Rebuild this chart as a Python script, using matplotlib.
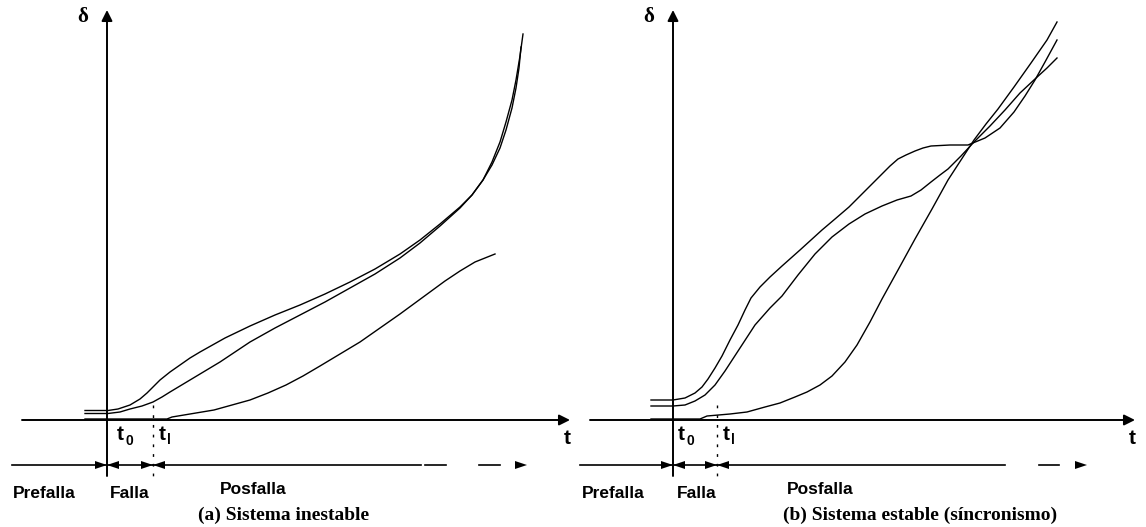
import matplotlib
matplotlib.use("Agg")
import matplotlib.pyplot as plt
from matplotlib.patches import Polygon

# swing curves, t measured from the fault instant, delta above the time axis
# (a) unstable system
a_top_t = [-22, 1, 11, 23, 33, 40, 47, 53, 63, 73, 83, 93, 118, 143, 168, 193, 218, 243, 268,
           293, 313, 333, 353, 365, 376, 385, 393, 399, 405, 409, 412, 414]
a_top_d = [9.5, 9.5, 11, 15, 21, 27, 34, 40, 48, 55, 62, 68, 82, 94, 105, 115, 126, 138, 151,
           166, 180, 196, 213, 225, 240, 255, 272, 290, 312, 332, 352, 373]
a_mid_t = [-22, 1, 13, 23, 35, 46, 55, 63, 73, 83, 98, 113, 128, 143, 168, 193, 218, 243, 268,
           293, 313, 333, 353, 365, 376, 385, 393, 399, 405, 409, 413, 416]
a_mid_d = [6.5, 6.5, 8, 11, 14, 18, 23, 28, 34, 40, 49, 58, 68, 78, 92, 105, 118, 132, 146,
           162, 177, 194, 212, 225, 240, 258, 278, 298, 320, 340, 364, 386]
a_low_t = [-22, 0, 60, 65, 83, 107, 125, 143, 161, 179, 196, 213, 233, 253, 273, 293, 308, 323,
           338, 353, 368, 378, 388]
a_low_d = [1, 1, 1, 3, 6, 10, 15, 20, 27, 35, 44, 54, 66, 78, 92, 106, 117, 128,
           139, 149, 158, 162, 166]

# (b) stable system
b_top_t = [-22, 0, 12, 22, 29, 35, 42, 49, 57, 65, 72, 78, 87, 97, 109, 127, 149, 162, 176,
           187, 196, 207, 217, 225, 233, 242, 250, 258, 277, 295, 312, 327, 341, 352, 362, 372, 384]
b_top_d = [20, 20, 22, 27, 33, 41, 52, 64, 80, 95, 110, 122, 133, 143, 154, 170, 190, 201, 213,
           224, 233, 244, 254, 261, 265, 269, 272, 274, 275, 275, 282, 292, 308, 324, 340, 358, 380]
b_mid_t = [-22, 0, 12, 22, 32, 42, 52, 67, 82, 97, 109, 125, 142, 159, 176, 192, 209, 224, 238,
           248, 258, 267, 275, 288, 301, 317, 332, 347, 362, 374, 384]
b_mid_d = [14, 14, 15, 19, 25, 35, 49, 72, 95, 112, 124, 145, 166, 183, 196, 206, 214, 220, 224,
           230, 238, 245, 251, 264, 278, 294, 310, 327, 341, 352, 362]
b_low_t = [-22, 27, 34, 57, 74, 92, 107, 122, 134, 147, 159, 172, 184, 197, 209, 225, 242, 259,
           275, 288, 301, 313, 325, 341, 358, 374, 384]
b_low_d = [1, 1, 4, 6, 8, 13, 17, 23, 28, 35, 44, 58, 75, 98, 121, 150, 181, 211,
           240, 260, 280, 296, 311, 333, 357, 380, 398]

t1_a = 46
t1_b = 44

fig = plt.figure(figsize=(11.46, 5.27), dpi=100)
fig.patch.set_facecolor("white")

sans = dict(family="Liberation Sans", weight="bold", color="black")
serif = dict(family="Liberation Serif", weight="bold", color="black")
LW_AX = 1.4
LW_C = 1.0


def head(ax, tip, y, direction, length=12, half=4):
    # filled triangle arrow head
    base = tip - direction * length
    ax.add_patch(Polygon([(tip, y), (base, y + half), (base, y - half)],
                         closed=True, color="black", lw=0, clip_on=False))


def panel(rect, x0, curves, t1, taxis, row, labels, caption):
    ax = fig.add_axes(rect)
    ax.set_xlim(-x0, 573 - x0)
    ax.set_ylim(-107, 420)
    ax.axis("off")

    # axes
    ax.annotate("", xy=(taxis[1], 0), xytext=(taxis[0], 0),
                arrowprops=dict(arrowstyle="-|>", lw=LW_AX, color="black",
                                mutation_scale=16, shrinkA=0, shrinkB=0))
    ax.annotate("", xy=(0, 410), xytext=(0, -56),
                arrowprops=dict(arrowstyle="-|>", lw=LW_AX, color="black",
                                mutation_scale=16, shrinkA=0, shrinkB=0))

    for t, d in curves:
        ax.plot(t, d, color="black", lw=LW_C, solid_joinstyle="round")

    # clearing instant
    ax.plot([t1, t1], [15, -58], color="black", lw=1.0, ls=(0, (2, 5)))

    # period arrows below the axis
    yr = -45
    ax.plot([row[0], 0], [yr, yr], color="black", lw=1.2)
    head(ax, 0, yr, 1)
    ax.plot([0, t1], [yr, yr], color="black", lw=1.2)
    head(ax, 0, yr, -1)
    head(ax, t1, yr, 1)
    head(ax, t1, yr, -1)
    ax.plot([t1, row[1]], [yr, yr], color="black", lw=1.2)
    for d0, d1 in row[2]:
        ax.plot([d0, d1], [yr, yr], color="black", lw=1.2)
    head(ax, row[3], yr, 1)

    # labels
    ax.text(-24, 403, "δ", fontsize=15, ha="center", va="center", **serif)
    ax.text(taxis[1] - 3, -18, "t", fontsize=15, ha="center", va="center", **sans)
    ax.text(labels[0], -14, "t", fontsize=15, ha="center", va="center", **sans)
    ax.text(labels[0] + 9, -21, "0", fontsize=10, ha="center", va="center", **sans)
    ax.text(labels[1], -14, "t", fontsize=15, ha="center", va="center", **sans)
    ax.text(labels[1] + 7, -20, "l", fontsize=10, ha="center", va="center", **sans)
    ax.text(labels[2], -73, "Prefalla", fontsize=12.5, ha="left", va="center", **sans)
    ax.text(labels[3], -73, "Falla", fontsize=12.5, ha="left", va="center", **sans)
    ax.text(labels[4], -70, "Posfalla", fontsize=12.5, ha="left", va="center", **sans)
    ax.text(labels[5], -95, caption, fontsize=14, ha="left", va="center", **serif)
    return ax


panel([0, 0, 0.5, 1], 107,
      [(a_top_t, a_top_d), (a_mid_t, a_mid_d), (a_low_t, a_low_d)],
      t1_a, (-85, 463),
      (-95, 314, [(318, 339), (372, 393)], 420),
      (13, 55, -94, 3, 113, 91),
      "(a) Sistema inestable")

panel([0.5, 0, 0.5, 1], 100,
      [(b_top_t, b_top_d), (b_mid_t, b_mid_d), (b_low_t, b_low_d)],
      t1_b, (-83, 462),
      (-93, 332, [(366, 386)], 414),
      (8, 53, -91, 4, 114, 110),
      "(b) Sistema estable (síncronismo)")

fig.savefig("out.png", dpi=100, facecolor="white")
